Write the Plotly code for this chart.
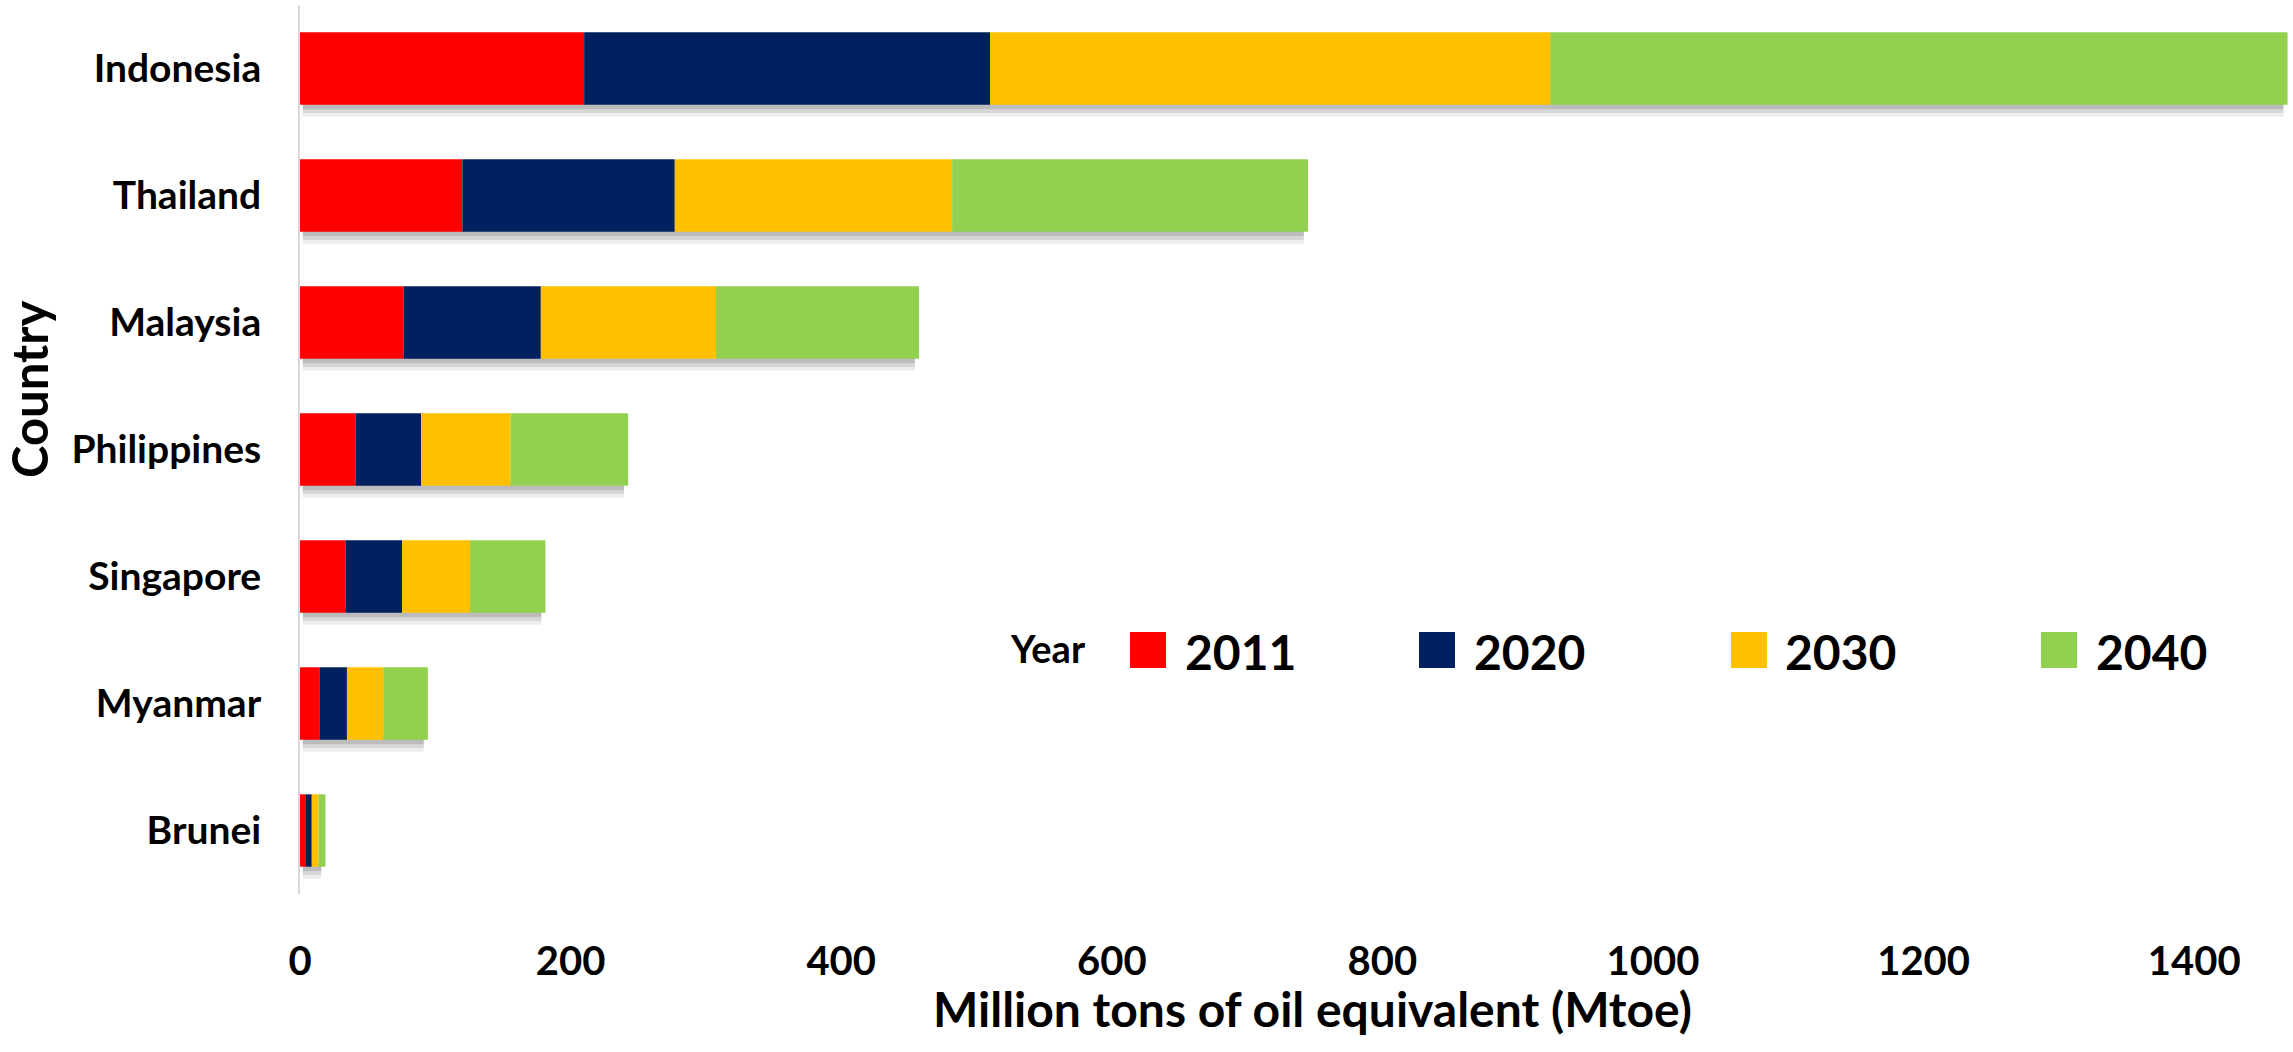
import numpy as np
import plotly.graph_objects as go

countries = ["Indonesia", "Thailand", "Malaysia", "Philippines", "Singapore", "Myanmar", "Brunei"]
years = ["2011", "2020", "2030", "2040"]
v2011 = [210, 120, 76.5, 41, 33.6, 14.7, 4.4]
v2020 = [300, 157, 101.5, 48.5, 41.8, 20, 4.3]
v2030 = [414, 205, 129.5, 66, 50.2, 26.8, 4.9]
v2040 = [545, 263, 150, 87, 55.8, 33, 5.2]
colors = ["#FF0000", "#002060", "#FFC000", "#92D050"]
x_ticks = [0, 200, 400, 600, 800, 1000, 1200, 1400]

FONT = "Lato, 'Liberation Sans', sans-serif"
W, H = 2293, 1052
ML, MR, MT, MB = 300, 3, 5, 158
PW, PH = W - ML - MR, H - MT - MB
BAR_W = 0.57

series = [v2011, v2020, v2030, v2040]
totals = np.sum(np.array(series), axis=0)

fig = go.Figure()

# soft drop shadow under each stacked bar (drawn on the primary axis, beneath the bars)
for depth, alpha in [(0.095, 0.07), (0.065, 0.09), (0.035, 0.12)]:
    fig.add_trace(go.Bar(y=countries, x=totals - 5, base=2, orientation="h",
                         width=depth + 0.03, offset=BAR_W / 2 - 0.03,
                         marker=dict(color=f"rgba(0,0,0,{alpha})", line=dict(width=0)),
                         showlegend=False, hoverinfo="skip", yaxis="y"))

# stacked bars (overlay with cumulative base)
base = np.zeros(len(countries))
for yr, vals, col in zip(years, series, colors):
    fig.add_trace(go.Bar(y=countries, x=vals, base=base.copy(), name=yr, orientation="h",
                         width=BAR_W,
                         marker=dict(color=col, line=dict(width=0)), showlegend=False,
                         yaxis="y2"))
    base = base + np.array(vals)

def px(x):
    return (x - ML) / PW

def py(y):
    return (H - MB - y) / PH

# custom legend (large swatches)
fig.add_annotation(x=px(1008), y=py(648), xref="paper", yref="paper", text="Year",
                   showarrow=False, xanchor="left", yanchor="middle",
                   font=dict(family=FONT, size=38, color="black", weight="bold"))
sw_left = [1130, 1419, 1731, 2041]
txt_left = [1183, 1472, 1783, 2094]
for yr, col, sl, tl in zip(years, colors, sw_left, txt_left):
    fig.add_shape(type="rect", xref="paper", yref="paper",
                  x0=px(sl), x1=px(sl + 36), y0=py(668), y1=py(632),
                  fillcolor=col, line=dict(width=0))
    fig.add_annotation(x=px(tl), y=py(651), xref="paper", yref="paper", text=yr,
                       showarrow=False, xanchor="left", yanchor="middle",
                       font=dict(family=FONT, size=48, color="black", weight="bold"))

# axis titles
fig.add_annotation(x=px(1312), y=py(1009), xref="paper", yref="paper",
                   text="Million tons of oil equivalent (Mtoe)", showarrow=False,
                   xanchor="center", yanchor="middle",
                   font=dict(family=FONT, size=48, color="black", weight="bold"))
fig.add_annotation(x=px(29), y=py(390), xref="paper", yref="paper",
                   text="Country", showarrow=False, textangle=-90,
                   xanchor="center", yanchor="middle",
                   font=dict(family=FONT, size=49, color="black", weight="bold"))

yrange = [len(countries) - 0.5, -0.5]
fig.update_layout(
    width=W, height=H,
    margin=dict(l=ML, r=MR, t=MT, b=MB),
    barmode="overlay",
    plot_bgcolor="white", paper_bgcolor="white",
    font=dict(family=FONT, color="black"),
    xaxis=dict(range=[0, 1470.8], tickvals=x_ticks, showgrid=False, zeroline=False,
               showline=False, ticks="", ticklabelstandoff=40,
               tickfont=dict(family=FONT, size=40, color="black", weight="bold")),
    yaxis=dict(type="category", categoryorder="array", categoryarray=countries,
               range=yrange, showgrid=False, zeroline=False,
               showline=True, linecolor="#d9d9d9", linewidth=2, ticks="",
               ticklabelstandoff=29,
               tickfont=dict(family=FONT, size=39, color="black", weight="bold")),
    yaxis2=dict(type="category", categoryorder="array", categoryarray=countries,
                range=yrange, overlaying="y", showgrid=False, zeroline=False,
                showline=False, showticklabels=False, ticks=""),
)

fig.write_html("out.html")
